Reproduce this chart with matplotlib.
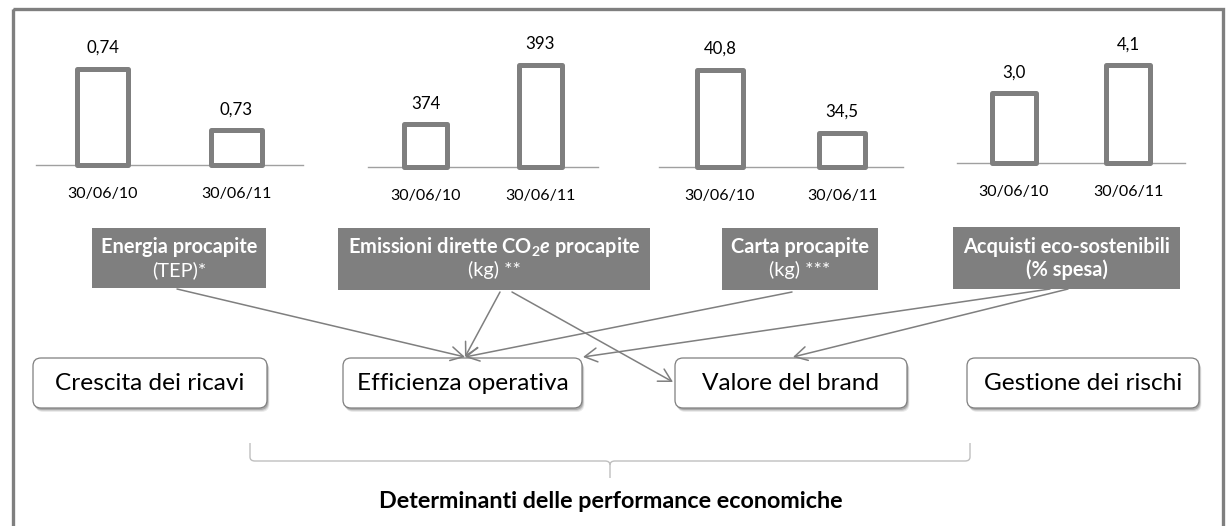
import matplotlib
matplotlib.use("Agg")
import matplotlib.pyplot as plt
from matplotlib.patches import Rectangle, FancyBboxPatch, PathPatch
from matplotlib.path import Path

plt.rcParams['font.family'] = ['Lato', 'DejaVu Sans']
plt.rcParams['mathtext.fontset'] = 'custom'
plt.rcParams['mathtext.rm'] = 'Lato:bold'
plt.rcParams['mathtext.bf'] = 'Lato:bold'
plt.rcParams['mathtext.it'] = 'Lato:bold:italic'

# ---------------- data ----------------
periods = ["30/06/10", "30/06/11"]
energia = [0.74, 0.73]
emissioni = [374, 393]
carta = [40.8, 34.5]
acquisti = [3.0, 4.1]
decimals = [2, 0, 1, 1]

indicator_line1 = ["Energia procapite",
                   r"Emissioni dirette CO$_{\mathbf{2}}\mathit{e}$ procapite",
                   "Carta procapite",
                   "Acquisti eco-sostenibili"]
indicator_line2 = ["(TEP)*", "(kg) **", "(kg) ***", "(% spesa)"]
line2_bold = [False, False, False, True]

drivers = ["Crescita dei ricavi", "Efficienza operativa",
           "Valore del brand", "Gestione dei rischi"]
# (indicator index, driver index)
links = [(0, 1), (1, 1), (1, 2), (2, 1), (3, 1), (3, 2)]
footer = "Determinanti delle performance economiche"

# ---------------- layout (pixels) ----------------
W, H = 1232, 526
GREY = "#7f7f7f"
panel_x = [(36, 303), (368, 598), (659, 903), (957, 1185)]
panel_base = [165, 167, 167, 163]
panel_ylim = [(0.72443, 0.74218), (360.5, 395.4), (31.05, 42.05), (0.2, 4.6)]
panel_h = 110
dark_boxes = [(92, 266, 228, 288), (338, 650, 228, 290),
              (722, 878, 228, 290), (953, 1180, 227, 289)]
round_boxes = [(33, 267), (343, 582), (675, 907), (967, 1199)]
rb_y = (358, 408)
arrow_pts = [((177, 289), (465, 357)), ((500, 292), (465, 357)),
             ((512, 292), (673, 382)), ((792, 292), (465, 357)),
             ((1050, 289), (583, 357)), ((1068, 289), (793, 357))]

fig = plt.figure(figsize=(W / 100, H / 100), dpi=100)
fig.patch.set_facecolor("white")
renderer = fig.canvas.get_renderer()


def fit_size(text, target_px, weight="normal", base=12.0):
    t = fig.text(0, 0, text, fontsize=base, fontweight=weight)
    w = t.get_window_extent(renderer).width
    t.remove()
    return base * target_px / w


fs_date = fit_size("30/06/10", 70)
fs_val = fit_size("0,74", 33)
fs_drv = fit_size("Crescita dei ricavi", 188)
fs_ind = fit_size("Energia procapite", 156, "bold")
fs_foot = fit_size(footer, 462, "bold")

# overlay axes for diagram
ov = fig.add_axes([0, 0, 1, 1])
ov.set_xlim(0, W)
ov.set_ylim(H, 0)
ov.axis("off")

# frame
ov.add_patch(Rectangle((13, 8.5), 1210, 540, fill=False, edgecolor=GREY,
                       lw=2.4, zorder=1))

# bar panels
series = [energia, emissioni, carta, acquisti]
for i, vals in enumerate(series):
    x0, x1 = panel_x[i]
    yb = panel_base[i]
    ax = fig.add_axes([x0 / W, 1 - yb / H, (x1 - x0) / W, panel_h / H])
    ax.set_facecolor("none")
    lo, hi = panel_ylim[i]
    xs = list(range(len(vals)))
    bars = ax.bar(xs, [v - lo for v in vals], bottom=lo, width=0.38,
                  facecolor="white", edgecolor=GREY, linewidth=3.6,
                  joinstyle="round", zorder=3)
    for b in bars:
        b.set_clip_on(False)
    ax.set_xlim(-0.5, 1.5)
    ax.set_ylim(lo, hi)
    for s in ["top", "left", "right"]:
        ax.spines[s].set_visible(False)
    ax.spines["bottom"].set_color("#a0a0a0")
    ax.spines["bottom"].set_linewidth(1.0)
    ax.set_yticks([])
    ax.set_xticks(xs)
    ax.set_xticklabels(periods, fontsize=fs_date, color="black")
    ax.tick_params(axis="x", length=0, pad=16)
    fmt = "{:.%df}" % decimals[i]
    for x, v in zip(xs, vals):
        ax.annotate(fmt.format(v).replace(".", ","), (x, v),
                    xytext=(0, 15), textcoords="offset points",
                    ha="center", va="center", fontsize=fs_val, color="black",
                    annotation_clip=False)

# dark indicator boxes
for i, (x0, x1, y0, y1) in enumerate(dark_boxes):
    ov.add_patch(Rectangle((x0, y0), x1 - x0, y1 - y0, facecolor=GREY,
                           edgecolor="none", zorder=2))
    cx = (x0 + x1) / 2
    ov.text(cx, 247, indicator_line1[i], ha="center", va="center",
            fontsize=fs_ind, fontweight="bold", color="white", zorder=3)
    ov.text(cx, 270, indicator_line2[i], ha="center", va="center",
            fontsize=fs_ind, fontweight="bold" if line2_bold[i] else "normal",
            color="white", zorder=3)

# rounded driver boxes with shadow
for i, (x0, x1) in enumerate(round_boxes):
    y0, y1 = rb_y
    for k, a in [(4, 0.10), (3, 0.15), (2, 0.25)]:
        ov.add_patch(FancyBboxPatch((x0 + k * 0.6, y0 + k), x1 - x0, y1 - y0,
                                    boxstyle="round,pad=0,rounding_size=8",
                                    facecolor="#404040", edgecolor="none",
                                    alpha=a, zorder=2))
    ov.add_patch(FancyBboxPatch((x0, y0), x1 - x0, y1 - y0,
                                boxstyle="round,pad=0,rounding_size=8",
                                facecolor="white", edgecolor=GREY, lw=0.9,
                                zorder=3))
    ov.text((x0 + x1) / 2, (y0 + y1) / 2, drivers[i], ha="center",
            va="center", fontsize=fs_drv, color="black", zorder=4)

# arrows
for (src, dst), (ind, drv) in zip(arrow_pts, links):
    ov.annotate("", xy=dst, xytext=src,
                arrowprops=dict(arrowstyle="->,head_length=0.9,head_width=0.5",
                                color=GREY, lw=1.1, shrinkA=0, shrinkB=0),
                zorder=5)

# brace
bl, br, bt, bh, tipx, tipy = 250, 970, 443, 461, 610, 478
verts = [(bl, bt), (bl, bh - 4), (bl, bh), (bl + 5, bh),
         (tipx - 5, bh), (tipx, bh), (tipx, bh + 4), (tipx, tipy)]
codes = [Path.MOVETO, Path.LINETO, Path.CURVE3, Path.CURVE3,
         Path.LINETO, Path.CURVE3, Path.CURVE3, Path.LINETO]
ov.add_patch(PathPatch(Path(verts, codes), fill=False, edgecolor="#bfbfbf",
                       lw=1.0, zorder=2))
verts = [(br, bt), (br, bh - 4), (br, bh), (br - 5, bh),
         (tipx + 5, bh), (tipx, bh), (tipx, bh + 4)]
codes = [Path.MOVETO, Path.LINETO, Path.CURVE3, Path.CURVE3,
         Path.LINETO, Path.CURVE3, Path.CURVE3]
ov.add_patch(PathPatch(Path(verts, codes), fill=False, edgecolor="#bfbfbf",
                       lw=1.0, zorder=2))

ov.text(611, 502, footer, ha="center", va="center", fontsize=fs_foot,
        fontweight="bold", color="black")

fig.savefig("out.png", dpi=100, facecolor="white")
